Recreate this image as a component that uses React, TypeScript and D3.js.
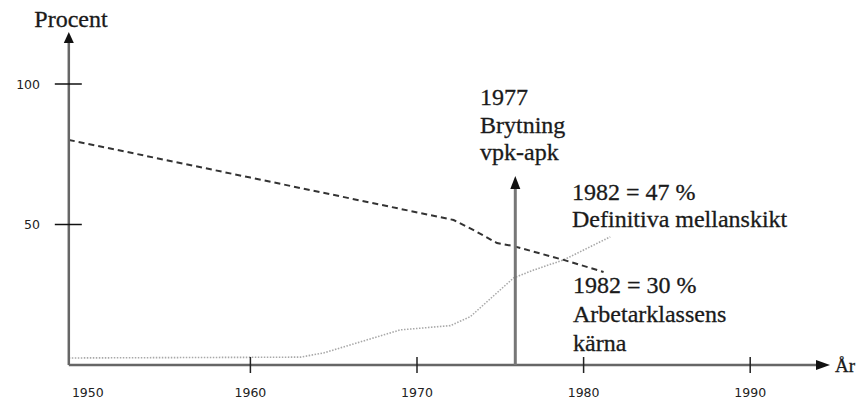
import React from 'react';
import * as d3 from 'd3';

// x-axis tick years and y-axis tick values
const xTicks = [1960, 1970, 1980, 1990];
const xLabels = [1950, 1960, 1970, 1980, 1990];
const yTicks = [100, 50];

// Definitiva mellanskikt (dotted) and Arbetarklassens kärna (dashed)
const mellanYears = [1949.1, 1963.0, 1964.4, 1969.0, 1972.0, 1973.2, 1975.8, 1977.0, 1978.8, 1981.6];
const mellanValues = [2.5, 2.8, 4.3, 12.5, 14.0, 17.2, 31.0, 33.8, 37.4, 45.6];
const karnaYears = [1949.1, 1960, 1972.2, 1973.4, 1974.8, 1975.8, 1978.8, 1981.2];
const karnaValues = [80.1, 66.7, 51.6, 48.0, 43.4, 42.3, 37.4, 33.1];

// break marker
const breakYear = 1975.9;
const breakLabel = ['1977', 'Brytning', 'vpk-apk'];
const mellanLabel = ['1982 = 47 %', 'Definitiva mellanskikt'];
const karnaLabel = ['1982 = 30 %', 'Arbetarklassens', 'kärna'];

const W = 856;
const H = 403;

export default function App() {
  const x = d3.scaleLinear().domain([1970, 1980]).range([417, 583.6]);
  const y = d3.scaleLinear().domain([0, 100]).range([365, 84]);

  const x0 = x(1949.1);
  const y0 = y(0);
  const axisEnd = 816;
  const yTop = 43;

  const line = d3.line<[number, number]>()
    .x(d => x(d[0]))
    .y(d => y(d[1]))
    .curve(d3.curveLinear);

  const mellan = line(mellanYears.map((v, i) => [v, mellanValues[i]]));
  const karna = line(karnaYears.map((v, i) => [v, karnaValues[i]]));

  const serif = {
    fontFamily: '"Liberation Serif", serif', fontSize: 24, fill: '#1a1a1a',
    stroke: '#1a1a1a', strokeWidth: 0.3,
  };
  const sans = { fontFamily: '"DejaVu Sans", sans-serif', fontSize: 12.5, fill: '#222' };
  const bx = x(breakYear);

  return (
    <svg width={W} height={H} style={{ position: 'absolute', left: 0, top: 0, background: '#fff' }}>
      {/* data lines */}
      <path d={mellan} fill="none" stroke="#a8a8a8" strokeWidth={1.6} strokeDasharray="1.5,1.5" />
      <path d={karna} fill="none" stroke="#333" strokeWidth={2} strokeDasharray="6,4" />

      {/* y axis */}
      <line x1={x0} x2={x0} y1={y0} y2={yTop} stroke="#666" strokeWidth={2.5} />
      <path d={`M${x0},${yTop - 11} L${x0 - 5},${yTop} L${x0 + 5},${yTop} Z`} fill="#111" />
      {yTicks.map(t => (
        <g key={t}>
          <line x1={x0 - 14} x2={x0 + 13} y1={y(t)} y2={y(t)} stroke="#111" strokeWidth={1.5} />
          <text x={40} y={y(t) + 4.5} textAnchor="end" {...sans}>{t}</text>
        </g>
      ))}
      <text x={71} y={27} textAnchor="middle" {...serif}>Procent</text>

      {/* x axis */}
      <line x1={x0} x2={axisEnd} y1={y0} y2={y0} stroke="#666" strokeWidth={2.5} />
      <path d={`M${axisEnd + 14},${y0} L${axisEnd},${y0 - 5} L${axisEnd},${y0 + 5} Z`} fill="#111" />
      {xTicks.map(t => (
        <line key={t} x1={x(t)} x2={x(t)} y1={y0 - 8} y2={y0 + 8} stroke="#222" strokeWidth={1.5} />
      ))}
      {xLabels.map(t => (
        <text key={t} x={x(t) + (t === 1950 ? 4 : 0)} y={397} textAnchor="middle" {...sans}>{t}</text>
      ))}
      <text x={835} y={372} {...serif} fontSize={19}>År</text>

      {/* break arrow */}
      <line x1={bx} x2={bx} y1={y0} y2={188} stroke="#777" strokeWidth={3} />
      <path d={`M${bx},176 L${bx - 5},189 L${bx + 5},189 Z`} fill="#111" />
      {breakLabel.map((s, i) => (
        <text key={s} x={480} y={105 + i * 27.5} {...serif}>{s}</text>
      ))}
      {mellanLabel.map((s, i) => (
        <text key={s} x={572} y={200 + i * 27} {...serif}>{s}</text>
      ))}
      {karnaLabel.map((s, i) => (
        <text key={s} x={573} y={293 + i * 29} {...serif}>{s}</text>
      ))}
    </svg>
  );
}
